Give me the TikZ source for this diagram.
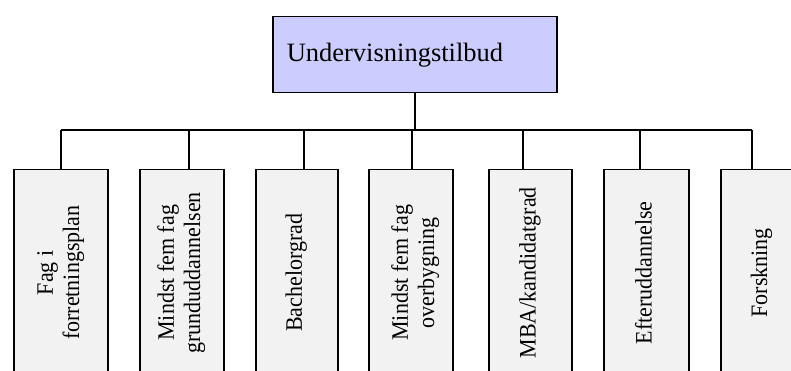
\documentclass[tikz,border=0pt]{standalone}
\usepackage{fontspec}
\setmainfont{Liberation Serif}
\begin{document}
\begin{tikzpicture}[x=1pt,y=-1pt,
  line width=1.5pt,
  rootbox/.style={draw=black, fill=rootfill, rectangle, anchor=north west,
    inner xsep=14pt, inner ysep=0pt, text width=256pt, minimum height=76pt,
    align=left, font=\fontsize{26.5}{30}\selectfont},
  leafbox/.style={draw=black, fill=leaffill, rectangle, anchor=north west,
    inner sep=0pt, minimum height=206pt, font=\fontsize{22}{24.5}\selectfont},
  link/.style={draw=black, line width=1.5pt}]
\definecolor{rootfill}{HTML}{CCCCFF}
\definecolor{leaffill}{HTML}{F2F2F2}
\useasboundingbox (0,0) rectangle (791,371);
\clip (0,0) rectangle (791,371);

% root
\node[rootbox] (root) at (272,16) {Undervisningstilbud};

% offers, text turned to read upwards (glyphs slightly taller than wide)
\newcommand{\upright}[1]{\rotatebox{90}{\scalebox{1}[1.07]{\begin{tabular}{@{}c@{}}#1\end{tabular}}}}
\node[leafbox, minimum width=94pt] (b1) at (13,169)  {\upright{Fag i\\forretningsplan}};
\node[leafbox, minimum width=84pt] (b2) at (139,169) {\upright{Mindst fem fag\\grunduddannelsen}};
\node[leafbox, minimum width=82pt] (b3) at (255,169) {\upright{Bachelorgrad}};
\node[leafbox, minimum width=84pt] (b4) at (368,169) {\hspace*{10pt}\upright{Mindst fem fag\\overbygning}};
\node[leafbox, minimum width=83pt] (b5) at (488,169) {\upright{MBA/kandidatgrad}};
\node[leafbox, minimum width=85pt] (b6) at (603,169) {\upright{Efteruddannelse}};
\node[leafbox, minimum width=82pt] (b7) at (720,169) {\upright{Forskning}};

% bus junctions
\coordinate (j1) at (61,130);
\coordinate (j2) at (189,130);
\coordinate (j3) at (304,130);
\coordinate (j4) at (412,130);
\coordinate (j5) at (523,130);
\coordinate (j6) at (640,130);
\coordinate (j7) at (752,130);

% connectors
\draw[link] (root.south) -- (root.south |- j1);
\draw[link] (j1) -- (j7);
\foreach \i in {1,...,7} {
  \draw[link] (j\i) -- (j\i |- b\i.north);
}
\end{tikzpicture}
\end{document}
